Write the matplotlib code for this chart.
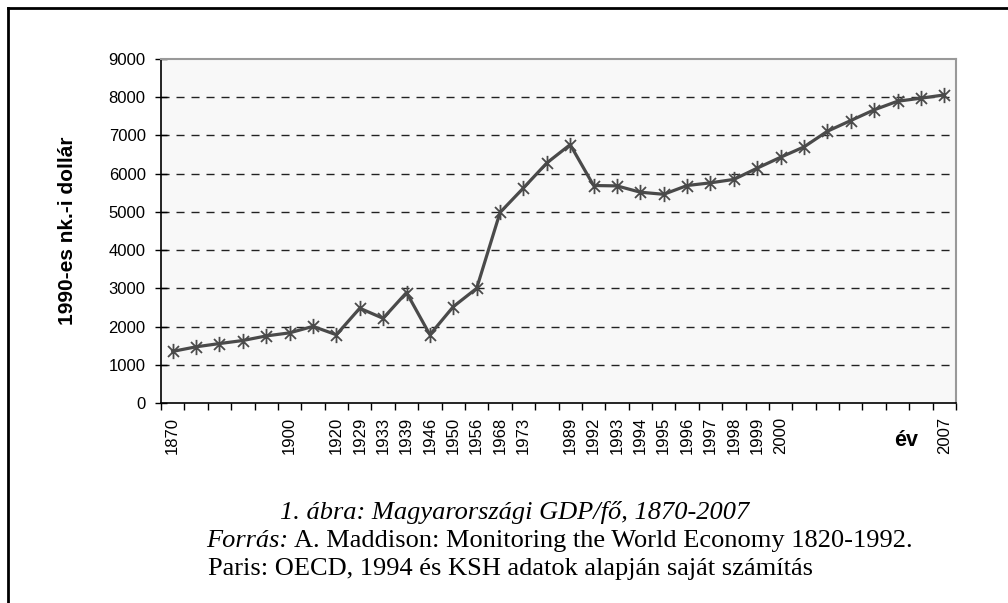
import numpy as np
import matplotlib
matplotlib.use("Agg")
import matplotlib.pyplot as plt
from matplotlib.path import Path
from matplotlib.lines import Line2D

years = ["1870", "", "", "", "", "1900", "", "1920", "1929", "1933", "1939",
         "1946", "1950", "1956", "1968", "1973", "", "1989", "1992", "1993",
         "1994", "1995", "1996", "1997", "1998", "1999", "2000", "", "", "",
         "", "", "", "2007"]
gdp = [1350, 1470, 1555, 1635, 1755, 1835, 2005, 1785, 2480, 2215, 2890,
       1785, 2520, 3000, 4985, 5625, 6280, 6760, 5690, 5680, 5515, 5460,
       5690, 5760, 5850, 6145, 6430, 6700, 7110, 7390, 7670, 7895, 7975, 8060]
yticks = [0, 1000, 2000, 3000, 4000, 5000, 6000, 7000, 8000, 9000]

plt.rcParams['font.family'] = ['Liberation Sans', 'DejaVu Sans']

W, H = 1008, 603
fig = plt.figure(figsize=(W / 100, H / 100), dpi=100)
fig.patch.set_facecolor('white')

# plot area in pixels: x 161..956, y 59..403
ax = fig.add_axes([161 / W, 1 - 403 / H, (956 - 161) / W, (403 - 59) / H])
ax.set_facecolor('#f8f8f8')

# excel-like asterisk marker: X plus a vertical stroke
star = Path([(0, -1), (0, 1), (-0.72, -0.72), (0.72, 0.72), (-0.72, 0.72), (0.72, -0.72)],
            [Path.MOVETO, Path.LINETO, Path.MOVETO, Path.LINETO, Path.MOVETO, Path.LINETO])

x = np.arange(len(gdp))
ax.plot(x, gdp, color='#4a4a4a', lw=2.3, marker=star, markersize=11,
        markeredgewidth=1.3, markeredgecolor='#4a4a4a', markerfacecolor='none',
        zorder=3)

ax.set_xlim(-0.5, len(gdp) - 0.5)
ax.set_ylim(0, 9000)
ax.set_yticks(yticks)
ax.set_yticklabels([str(v) for v in yticks], fontsize=12)
ax.tick_params(axis='y', direction='inout', length=8, width=1, pad=7)

ax.set_xticks(np.arange(-0.5, len(gdp), 1))
ax.set_xticklabels([])
ax.tick_params(axis='x', which='major', direction='out', length=5, width=1)
ax.set_xticks(x, minor=True)
ax.set_xticklabels(years, minor=True, rotation=90, fontsize=12)
ax.tick_params(axis='x', which='minor', length=0, pad=10)

for v in yticks[1:-1]:
    ax.axhline(v, color='#222222', lw=1, ls=(0, (5.8, 5)), zorder=1)

for s in ['left', 'bottom']:
    ax.spines[s].set_color('black')
    ax.spines[s].set_linewidth(1.2)
for s in ['top', 'right']:
    ax.spines[s].set_color('#999999')
    ax.spines[s].set_linewidth(1.5)

ax.set_ylabel('1990-es nk.-i dollár', fontsize=15, fontweight='bold')
ax.yaxis.set_label_coords(-0.1057, 0.5)

ax.annotate('év', xy=(31.36, 0), xycoords=('data', 'axes fraction'),
            xytext=(0, -37), textcoords='offset pixels', ha='center', va='center',
            fontsize=15.5, fontweight='bold')

# outer frame (left and top edges)
fig.add_artist(Line2D([8 / W, 8 / W], [0, 1 - 8 / H], color='black', lw=2,
                      transform=fig.transFigure))
fig.add_artist(Line2D([8 / W, 1], [1 - 8 / H, 1 - 8 / H], color='black', lw=2,
                      transform=fig.transFigure))

# caption
serif = ['Liberation Serif', 'DejaVu Serif']
cs = 19
r = fig.canvas.get_renderer()
fig.text(280 / W, 1 - 513 / H, '1. ábra: Magyarországi GDP/fő, 1870-2007',
         family=serif, style='italic', fontsize=cs, va='center', ha='left')
src = fig.text(206 / W, 1 - 541 / H, 'Forrás:', family=serif, style='italic',
               fontsize=cs, va='center', ha='left')
x_end = src.get_window_extent(renderer=r).x1
fig.text((x_end + 6) / W, 1 - 541 / H,
         'A. Maddison: Monitoring the World Economy 1820-1992.',
         family=serif, fontsize=cs, va='center', ha='left')
fig.text(208 / W, 1 - 569 / H,
         'Paris: OECD, 1994 és KSH adatok alapján saját számítás',
         family=serif, fontsize=cs, va='center', ha='left')

fig.savefig('out.png', dpi=100)
